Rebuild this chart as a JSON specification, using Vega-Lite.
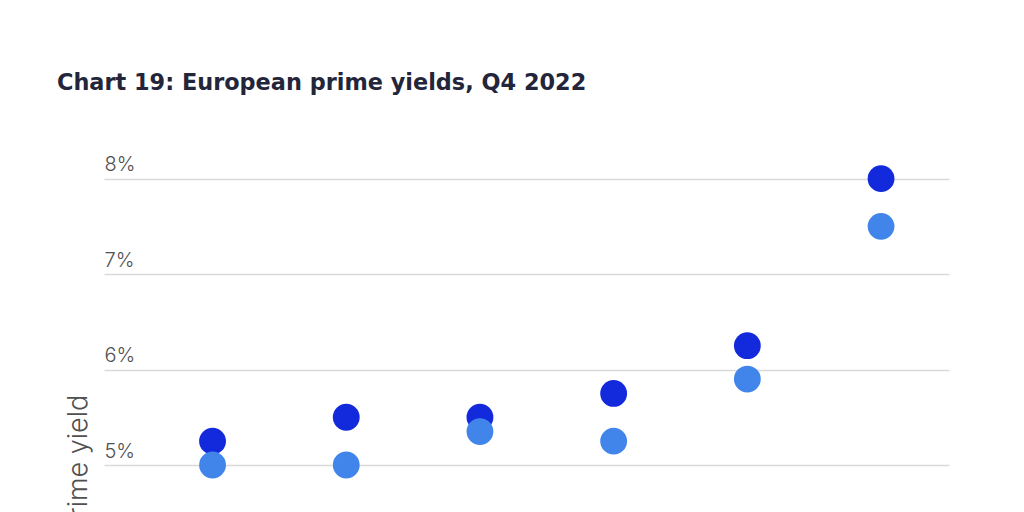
{
  "$schema": "https://vega.github.io/schema/vega-lite/v6.json",
  "autosize": {"type": "none"},
  "padding": {"left": 104, "top": 150, "right": 75, "bottom": 0},
  "width": 845,
  "height": 630,
  "background": "white",
  "title": {
    "text": "Chart 19: European prime yields, Q4 2022",
    "anchor": "start",
    "dx": -7,
    "offset": 56,
    "font": "DejaVu Sans",
    "fontSize": 22.4,
    "fontWeight": "bold",
    "color": "#23263a"
  },
  "data": {
    "values": [
      {"sector": "Offices", "series": "Q4 2022", "yield": 5.25},
      {"sector": "Offices", "series": "Q3 2022", "yield": 5.0},
      {"sector": "Logistics", "series": "Q4 2022", "yield": 5.5},
      {"sector": "Logistics", "series": "Q3 2022", "yield": 5.0},
      {"sector": "Residential", "series": "Q4 2022", "yield": 5.5},
      {"sector": "Residential", "series": "Q3 2022", "yield": 5.35},
      {"sector": "High street retail", "series": "Q4 2022", "yield": 5.75},
      {"sector": "High street retail", "series": "Q3 2022", "yield": 5.25},
      {"sector": "Retail warehouses", "series": "Q4 2022", "yield": 6.25},
      {"sector": "Retail warehouses", "series": "Q3 2022", "yield": 5.9},
      {"sector": "Shopping centres", "series": "Q4 2022", "yield": 8.0},
      {"sector": "Shopping centres", "series": "Q3 2022", "yield": 7.5}
    ]
  },
  "mark": {"type": "circle", "size": 720, "opacity": 1},
  "encoding": {
    "x": {
      "field": "sector",
      "type": "nominal",
      "sort": null,
      "title": null,
      "scale": {"type": "point", "padding": 0.66, "align": 0.615},
      "axis": {"domain": false, "ticks": false, "labels": false}
    },
    "y": {
      "field": "yield",
      "type": "quantitative",
      "title": "Prime yield",
      "scale": {"domain": [1.7, 8.3], "nice": false, "zero": false},
      "axis": {
        "values": [5, 6, 7, 8],
        "format": ".0f",
        "labelExpr": "datum.label + '%'",
        "domain": false,
        "ticks": false,
        "labelPadding": 0,
        "labelAlign": "left",
        "labelBaseline": "bottom",
        "labelOffset": -4,
        "labelFont": "Inter",
        "labelFontWeight": 300,
        "labelFontSize": 20,
        "labelColor": "#505050",
        "gridColor": "#d9d9d9",
        "gridWidth": 1.5,
        "titleFont": "Inter",
        "titleFontWeight": 300,
        "titleFontSize": 27,
        "titleColor": "#505050",
        "titleX": -12,
        "titleY": 314,
        "titleAngle": -90,
        "titleBaseline": "bottom",
        "titleAlign": "center"
      }
    },
    "color": {
      "field": "series",
      "type": "nominal",
      "scale": {"domain": ["Q4 2022", "Q3 2022"], "range": ["#1329dc", "#4285ea"]},
      "legend": null
    }
  },
  "config": {"view": {"stroke": null}}
}
